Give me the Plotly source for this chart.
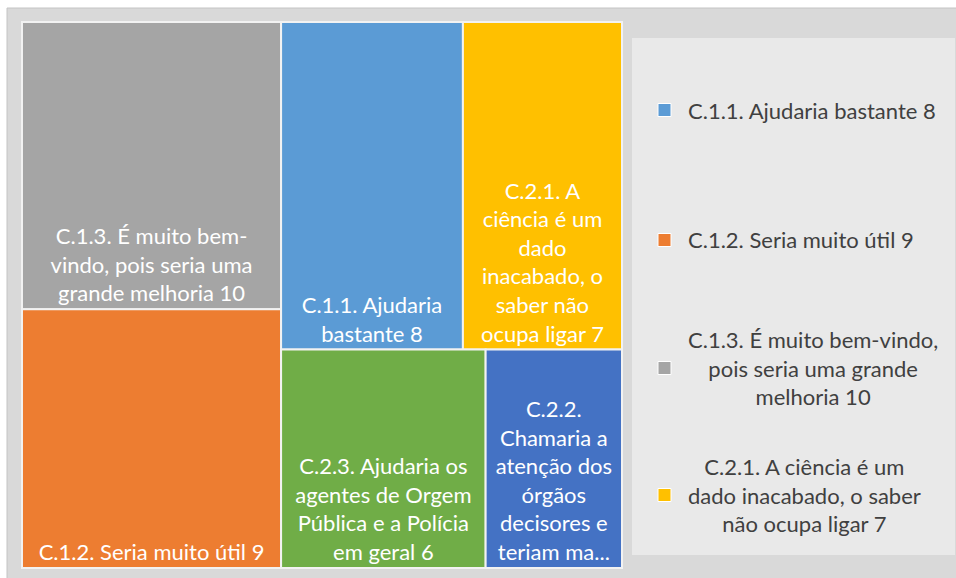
import plotly.graph_objects as go

# treemap data (Excel-style flat treemap)
labels = [
    "C.1.1. Ajudaria bastante",
    "C.1.2. Seria muito útil",
    "C.1.3. É muito bem-vindo, pois seria uma grande melhoria",
    "C.2.1. A ciência é um dado inacabado, o saber não ocupa ligar",
    "C.2.2. Chamaria a atenção dos órgãos decisores e teriam ma...",
    "C.2.3. Ajudaria os agentes de Orgem Pública e a Polícia em geral",
]
values = [8, 9, 10, 7, 4, 6]
colors = ["#5b9bd5", "#ed7d31", "#a5a5a5", "#ffc000", "#4472c4", "#70ad47"]

# wrapped text as shown inside the tiles
tile_lines = [
    "C.1.1. Ajudaria<br>bastante",
    "C.1.2. Seria muito útil",
    "C.1.3. É muito bem-<br>vindo, pois seria uma<br>grande melhoria",
    "C.2.1. A<br>ciência é um<br>dado<br>inacabado, o<br>saber não<br>ocupa ligar",
    "C.2.2.<br>Chamaria a<br>atenção dos<br>órgãos<br>decisores e<br>teriam ma...",
    "C.2.3. Ajudaria os<br>agentes de Orgem<br>Pública e a Polícia<br>em geral",
]
# the truncated tile carries no value
show_value = [True, True, True, True, False, True]

# legend (only the first four entries are visible in the chart)
legend_idx = [0, 1, 2, 3]
legend_lines = [
    "C.1.1. Ajudaria bastante",
    "C.1.2. Seria muito útil",
    "C.1.3. É muito bem-vindo,<br>pois seria uma grande<br>melhoria",
    "C.2.1. A ciência é um<br>dado inacabado, o saber<br>não ocupa ligar",
]

W, H = 956, 578
FONT = "Lato"

def px(x):
    return x / W

def py(y):
    return 1 - y / H

fig = go.Figure()

fig.add_trace(go.Treemap(
    labels=labels,
    parents=[""] * len(labels),
    values=values,
    text=tile_lines,
    texttemplate=["%{text} %{value}" if s else "%{text}" for s in show_value],
    textposition="bottom center",
    textfont=dict(family=FONT, size=22, color="white"),
    marker=dict(colors=colors, line=dict(color="#f2f2f2", width=2),
                pad=dict(t=0, l=0, r=0, b=0)),
    tiling=dict(packing="squarify", squarifyratio=1.2, pad=0),
    pathbar=dict(visible=False),
    sort=True,
    hoverinfo="skip",
    domain=dict(x=[px(22), px(622)], y=[py(568), py(22)]),
))

shapes = []
# chart frame background
shapes.append(dict(type="rect", xref="paper", yref="paper", layer="below",
                   x0=px(7), x1=1.01, y0=-0.01, y1=py(8),
                   fillcolor="#d9d9d9", line=dict(color="#c4c4c4", width=1)))
# legend box
shapes.append(dict(type="rect", xref="paper", yref="paper", layer="below",
                   x0=px(632), x1=px(955), y0=py(555), y1=py(38),
                   fillcolor="#e9e9e9", line=dict(width=0)))

annotations = []
legend_y = [110, 240, 368, 495]
for k, i in enumerate(legend_idx):
    yc = legend_y[k]
    shapes.append(dict(type="rect", xref="paper", yref="paper",
                       x0=px(658), x1=px(671), y0=py(yc + 6.5), y1=py(yc - 6.5),
                       fillcolor=colors[i], line=dict(color="white", width=1)))
    annotations.append(dict(
        xref="paper", yref="paper", x=px(686), y=py(yc),
        xanchor="left", yanchor="middle", align="center",
        text=f"{legend_lines[k]} {values[i]}", showarrow=False,
        font=dict(family=FONT, size=22, color="#404040"),
    ))

fig.update_layout(
    width=W, height=H,
    margin=dict(l=0, r=0, t=0, b=0),
    paper_bgcolor="white",
    shapes=shapes,
    annotations=annotations,
    uniformtext=dict(minsize=22, mode="show"),
    showlegend=False,
)

fig.write_html("out.html", config={"displayModeBar": False},
               post_script="document.body.style.margin='0px';document.body.style.overflow='hidden';")
